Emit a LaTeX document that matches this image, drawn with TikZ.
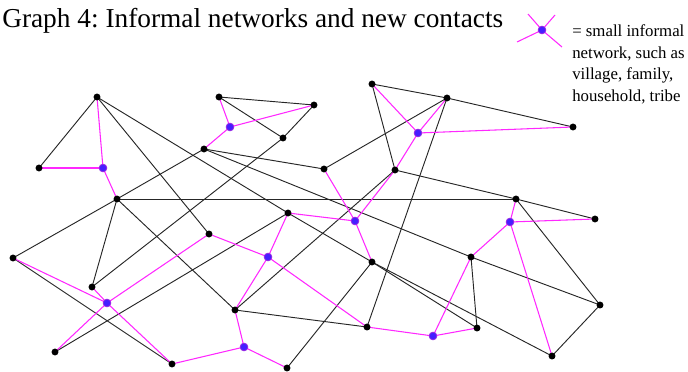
\documentclass[tikz,border=0pt]{standalone}
\usepackage{fontspec}
\setmainfont{Liberation Serif}
\frenchspacing
\definecolor{magline}{RGB}{255,40,255}
\definecolor{bluedot}{RGB}{70,30,255}
\definecolor{bluerim}{RGB}{150,40,230}
\begin{document}
\begin{tikzpicture}[x=0.75pt,y=-0.75pt,
  blk/.style={line width=0.7pt, black!85},
  mag/.style={line width=0.8pt, magline},
  bd/.style={circle, fill=black, inner sep=0pt, minimum size=5.2pt},
  nd/.style={circle, fill=bluedot, draw=bluerim, line width=0.6pt, inner sep=0pt, minimum size=5.8pt},
  lbl/.style={anchor=base west, inner sep=0pt, font=\fontsize{12.6}{14}\selectfont}]
\useasboundingbox (0,0) rectangle (688,371);
% black nodes
\coordinate (A) at (97,97);
\coordinate (B) at (39,168);
\coordinate (C) at (219,97);
\coordinate (D) at (314,105);
\coordinate (E) at (283,138);
\coordinate (F) at (204,149);
\coordinate (G) at (117,199);
\coordinate (H) at (324,169);
\coordinate (I) at (372,84);
\coordinate (J) at (447,98);
\coordinate (K) at (573,127);
\coordinate (L) at (395,170);
\coordinate (M) at (516,199);
\coordinate (N) at (595,219);
\coordinate (O) at (288,213);
\coordinate (P) at (209,234);
\coordinate (Q) at (13,258);
\coordinate (R) at (92,287);
\coordinate (S) at (372,262);
\coordinate (T) at (471,257);
\coordinate (U) at (600,305);
\coordinate (V) at (235,310);
\coordinate (W) at (367,327);
\coordinate (X) at (477,328);
\coordinate (Y) at (552,356);
\coordinate (Z) at (55,352);
\coordinate (AA) at (172,364);
\coordinate (AB) at (287,368);
% network centres
\coordinate (n1) at (103,168);
\coordinate (n2) at (230,127);
\coordinate (n3) at (418,133);
\coordinate (n4) at (355,221);
\coordinate (n5) at (510,222);
\coordinate (n6) at (268,257);
\coordinate (n7) at (107,303);
\coordinate (n8) at (244,347);
\coordinate (n9) at (433,336);
% black connectors
\foreach \a/\b in {A/B,A/P,A/O,C/D,C/E,D/E,E/R,F/H,F/T,T/U,G/F,Q/G,G/R,G/V,G/M,
  O/Z,O/S,S/X,S/Y,S/AB,Q/AA,I/J,J/K,I/L,J/H,J/W,L/M,M/N,L/V,M/U,U/Y,T/X,V/W}
  \draw[blk] (\a) -- (\b);
% magenta connectors
\foreach \c/\m in {n1/A,n1/B,n1/G,n2/C,n2/D,n2/F,n3/I,n3/K,n3/J,n3/L,
  n4/H,n4/O,n4/S,n4/L,n5/M,n5/N,n5/T,n5/Y,n6/O,n6/P,n6/V,n6/W,
  n7/Q,n7/R,n7/Z,n7/AA,n7/P,n8/AA,n8/V,n8/AB,n9/W,n9/X,n9/T}
  \draw[mag] (\c) -- (\m);
% dots
\foreach \p in {A,B,C,D,E,F,G,H,I,J,K,L,M,N,O,P,Q,R,S,T,U,V,W,X,Y,Z,AA,AB}
  \node[bd] (d\p) at (\p) {};
\foreach \p in {n1,n2,n3,n4,n5,n6,n7,n8,n9}
  \node[nd] (d\p) at (\p) {};
% legend
\coordinate (l1) at (528,14);
\coordinate (l2) at (555,15);
\coordinate (l3) at (562,47);
\coordinate (l4) at (517,42);
\coordinate (lc) at (542,30);
\foreach \q in {l1,l2,l3,l4} \draw[mag] (lc) -- (\q);
\node[nd] (legdot) at (lc) {};
\node[lbl] (t1) at (572,36.5) {= small informal};
\node[lbl] (t2) at (572,58) {network, such as};
\node[lbl] (t3) at (572,79.5) {village, family,};
\node[lbl] (t4) at (572,101) {household, tribe};
% title
\node[anchor=base west, inner sep=0pt, font=\fontsize{20.5}{24}\selectfont] (title) at (2,27) {Graph 4: Informal networks and new contacts};
\end{tikzpicture}
\end{document}
